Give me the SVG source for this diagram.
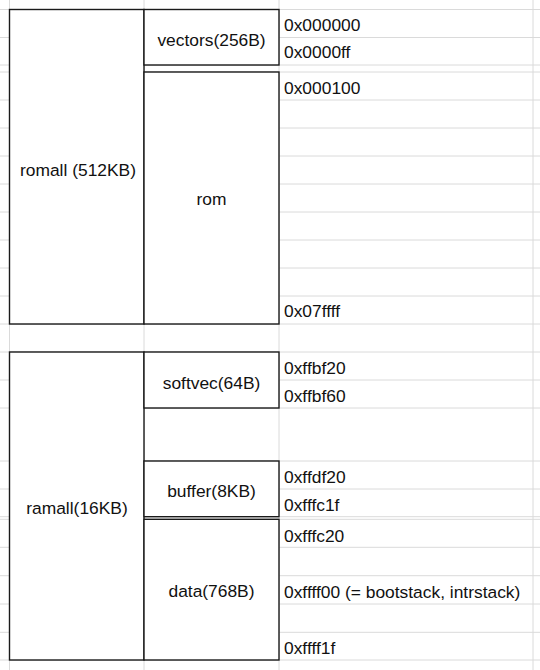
<svg xmlns="http://www.w3.org/2000/svg" width="540" height="670" viewBox="0 0 540 670">
<style>
.g{stroke:#dadada;stroke-width:1;fill:none}
.b{fill:#fff;stroke:#1a1a1a;stroke-width:1.4}
text{font-family:"Liberation Sans",Arial,sans-serif;font-size:17.4px;fill:#111}
.c{text-anchor:middle}
</style>
<rect x="0" y="0" width="540" height="670" fill="#fff"/>
<g id="grid" class="g">
<path d="M0 9.5H540M0 37.5H540M0 65H540M0 72H540M0 100H540M0 128H540M0 156H540M0 184H540M0 212H540M0 240H540M0 268H540M0 296H540M0 324H540M0 352H540M0 380H540M0 408H540M0 461H540M0 489H540M0 516.7H540M0 519.3H540M0 547.3H540M0 575.7H540M0 604H540M0 632.3H540M0 660H540"/>
<path d="M9.5 0V670M144 0V670M279 0V670M533 0V670"/>
</g>
<g id="romall"><rect class="b" x="9.5" y="9.5" width="134.5" height="314.5"/><text class="c" x="78" y="176">romall (512KB)</text></g>
<g id="vectors"><rect class="b" x="144" y="9.5" width="135" height="55.5"/><text class="c" x="211.5" y="45.5">vectors(256B)</text></g>
<g id="rom"><rect class="b" x="144" y="72" width="135" height="252"/><text class="c" x="211.5" y="205">rom</text></g>
<g id="ramall"><rect class="b" x="9.5" y="352" width="134.5" height="308"/><text class="c" x="77" y="514">ramall(16KB)</text></g>
<g id="softvec"><rect class="b" x="144" y="352" width="135" height="56"/><text class="c" x="211.5" y="389">softvec(64B)</text></g>
<g id="buffer"><rect class="b" x="144" y="461" width="135" height="55.7"/><text class="c" x="211.5" y="497">buffer(8KB)</text></g>
<g id="data"><rect class="b" x="144" y="519.3" width="135" height="140.7"/><text class="c" x="211.5" y="596.5">data(768B)</text></g>
<g id="addresses">
<text x="284" y="30.5">0x000000</text>
<text x="284" y="58.3">0x0000ff</text>
<text x="284" y="94">0x000100</text>
<text x="284" y="317.3">0x07ffff</text>
<text x="284" y="374">0xffbf20</text>
<text x="284" y="402.3">0xffbf60</text>
<text x="284" y="482.7">0xffdf20</text>
<text x="284" y="510.7">0xfffc1f</text>
<text x="284" y="541.7">0xfffc20</text>
<text x="284" y="598.3">0xffff00 (= bootstack, intrstack)</text>
<text x="284" y="654">0xffff1f</text>
</g>
<g id="connectors"/>
</svg>
